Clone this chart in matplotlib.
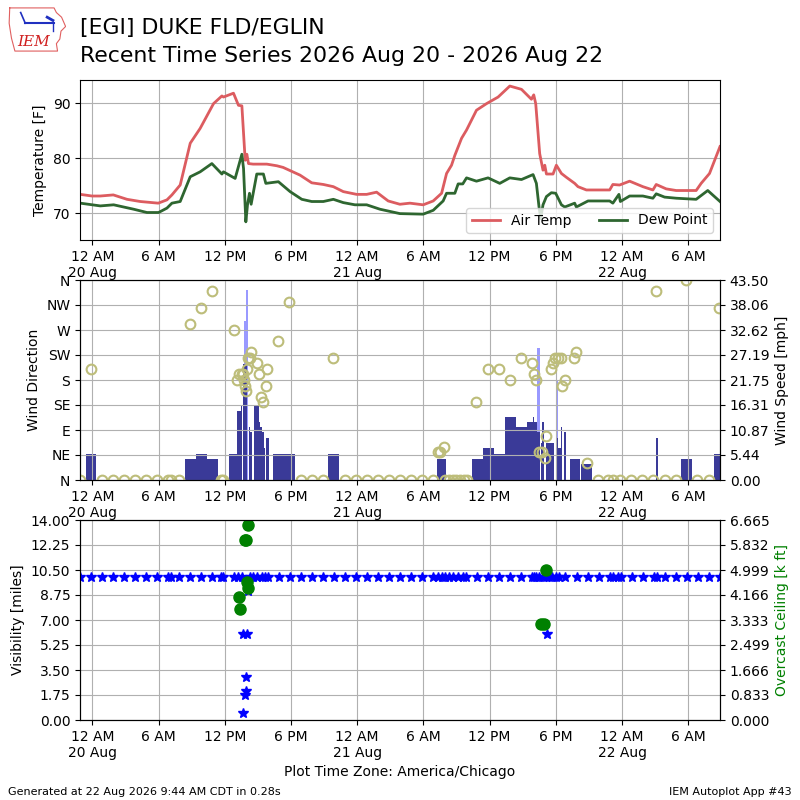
import matplotlib
matplotlib.use('Agg')
import matplotlib.pyplot as plt
import matplotlib.dates as mdates
from matplotlib.ticker import FuncFormatter
import numpy as np
import pandas as pd

# hours are counted from 2026-08-20 00:00 local (America/Chicago)
BASE = pd.Timestamp('2026-08-20 00:00')
START_H, END_H = -1.12, 56.88

temp_hours = [-1.09, -0.03, 0.72, 1.9, 3.14, 4.34, 5.97, 6.76, 7.21, 7.96, 8.87, 9.77,
              10.98, 11.74, 11.88, 12.79, 13.24, 13.55, 13.85, 14.0, 14.15, 14.57, 15.81,
              16.72, 17.29, 18.82, 19.88, 20.93, 21.84, 22.74, 23.95, 24.86, 25.76, 26.81,
              27.87, 28.78, 29.98, 30.89, 31.65, 32.1, 32.55, 32.85, 33.46, 33.91, 34.81,
              35.72, 36.77, 37.83, 38.89, 39.79, 40.0, 40.18, 40.54, 40.84, 41.0, 41.15,
              41.75, 42.05, 42.51, 42.96, 43.71, 44.01, 44.77, 46.88, 47.17, 47.78, 48.69,
              49.89, 50.8, 51.1, 52.0, 52.91, 54.72, 55.17, 55.93, 56.88]
temp_f = [73.4, 73.1, 73.1, 73.3, 72.5, 72.1, 71.8, 72.4, 73.3, 75.1, 82.7, 85.4,
          89.9, 91.3, 91.1, 91.8, 89.6, 89.5, 79.6, 80.7, 79.0, 78.9, 78.9,
          78.6, 78.3, 76.9, 75.5, 75.2, 74.8, 73.9, 73.4, 73.4, 73.8, 72.2,
          71.6, 71.8, 71.5, 72.2, 73.6, 77.2, 78.7, 80.5, 83.6, 85.1, 88.7,
          89.9, 91.1, 93.1, 92.5, 90.7, 91.5, 89.9, 80.8, 77.8, 78.7, 77.1,
          77.1, 78.7, 77.2, 76.5, 75.4, 74.8, 74.2, 74.2, 75.2, 75.1, 75.8,
          74.8, 74.2, 75.2, 74.4, 74.1, 74.1, 75.4, 77.2, 82.1]

dew_hours = [-1.09, 0.72, 1.93, 3.74, 4.95, 6.0, 6.76, 7.21, 7.96, 8.87, 9.77, 10.83,
             11.74, 11.88, 12.94, 13.55, 13.7, 13.91, 14.06, 14.24, 14.39, 14.9, 15.5,
             15.72, 16.86, 17.92, 18.98, 19.88, 20.93, 21.84, 22.74, 23.8, 24.86, 26.06,
             27.87, 29.98, 30.89, 31.79, 32.1, 32.85, 33.15, 33.57, 33.91, 34.81, 35.86,
             36.92, 37.83, 38.89, 39.94, 40.24, 40.48, 40.63, 40.84, 41.15, 41.6, 41.99,
             42.51, 42.81, 43.71, 43.86, 44.92, 46.88, 47.17, 47.72, 47.85, 48.69, 49.89,
             50.8, 51.1, 51.86, 52.91, 54.72, 55.77, 56.88]
dew_f = [71.8, 71.3, 71.5, 70.7, 70.1, 70.1, 70.9, 71.8, 72.1, 76.6, 77.5, 79.0,
         77.1, 77.5, 76.3, 80.7, 78.1, 68.4, 71.5, 73.6, 71.6, 77.1, 77.1,
         75.4, 75.7, 73.9, 72.5, 72.1, 72.1, 72.5, 71.9, 71.5, 71.5, 70.7,
         69.9, 69.8, 70.5, 72.2, 73.6, 73.6, 75.3, 75.3, 76.4, 75.8, 76.4,
         75.4, 76.4, 76.1, 77.0, 75.4, 71.1, 69.0, 71.5, 73.0, 73.7, 73.6,
         71.5, 71.1, 71.8, 71.1, 72.2, 72.2, 71.8, 73.4, 72.1, 73.1, 73.1,
         72.7, 73.5, 72.9, 72.7, 72.5, 74.1, 72.1]

# wind speed bars: time, speed [mph], observation span [h]
wind_hours = [-0.12, 8.88, 9.88, 10.88, 12.76, 13.37, 13.52, 13.85, 14.24, 14.39, 14.9,
              15.13, 15.28, 15.44, 15.6, 15.86, 16.88, 17.88, 21.88, 31.65, 34.88, 35.88,
              36.88, 37.88, 38.88, 39.66, 39.98, 40.17, 40.44, 40.69, 40.82, 41.45, 42.1,
              42.35, 42.53, 42.83, 43.71, 44.81, 51.16, 53.88, 56.88]
wind_mph = [5.75, 4.6, 5.75, 4.6, 5.75, 14.95, 16.1, 25.3, 11.5, 10.35, 16.1,
            12.65, 11.5, 10.35, 6.9, 9.2, 5.75, 5.75, 5.75, 4.6, 4.6, 6.9,
            5.75, 13.8, 11.5, 12.65, 13.8, 12.65, 10.35, 8.05, 12.65, 8.05, 9.2,
            6.9, 11.5, 10.35, 4.6, 3.45, 9.2, 4.6, 5.75]
wind_span = [0.97, 1.0, 0.97, 1.0, 0.75, 0.45, 0.09, 0.31, 0.12, 0.21, 0.48,
             0.15, 0.15, 0.15, 0.15, 0.24, 1.0, 0.97, 1.0, 0.81, 1.0, 1.0,
             1.0, 1.0, 1.02, 0.54, 0.15, 0.24, 0.27, 0.14, 0.15, 0.72, 0.21,
             0.31, 0.09, 0.24, 0.9, 1.0, 0.24, 1.0, 1.0]

gust_hours = [13.8, 13.98, 40.44, 42.1]
gust_mph = [34.5, 41.4, 28.75, 21.85]
gust_span = [0.2, 0.18, 0.27, 0.21]

dir_hours = [-1.12, -0.12, 0.88, 1.88, 2.88, 3.88, 4.88, 5.88, 6.88, 7.12, 7.88, 8.88,
             9.88, 10.88, 11.65, 11.88, 12.85, 13.15, 13.33, 13.55, 13.69, 13.76, 13.85,
             13.94, 14.0, 14.15, 14.3, 14.39, 14.9, 15.14, 15.29, 15.45, 15.72, 15.86,
             16.86, 17.83, 18.88, 19.88, 20.88, 21.84, 22.88, 23.88, 24.88, 25.88, 26.88,
             27.88, 28.88, 29.88, 30.88, 31.35, 31.5, 31.86, 32.0, 32.34, 32.7, 33.0,
             33.3, 33.67, 33.91, 34.81, 35.86, 36.83, 37.83, 38.82, 39.85, 40.0, 40.24,
             40.48, 40.79, 41.0, 41.09, 41.6, 41.75, 41.9, 42.2, 42.5, 42.56, 42.87,
             43.65, 43.86, 44.86, 45.82, 46.73, 47.18, 47.78, 48.84, 49.8, 50.8, 51.1,
             51.86, 52.86, 53.82, 54.83, 55.86, 56.8]
dir_deg = [0, 200, 0, 0, 0, 0, 0, 0, 0, 0, 0, 280,
           310, 340, 0, 0, 270, 180, 190, 190, 190, 180, 170,
           160, 200, 220, 220, 230, 210, 190, 150, 140, 170, 200,
           250, 320, 0, 0, 0, 220, 0, 0, 0, 0, 0,
           0, 0, 0, 0, 50, 50, 60, 0, 0, 0, 0,
           0, 0, 0, 140, 200, 200, 180, 220, 210, 190, 180,
           50, 50, 40, 80, 200, 210, 220, 220, 220, 170, 180,
           220, 230, 30, 0, 0, 0, 0, 0, 0, 0, 340,
           0, 0, 360, 0, 0, 310]

vis_hours = [-1.12, -0.12, 0.88, 1.88, 2.88, 3.88, 4.88, 5.88, 6.88, 7.12, 7.88, 8.88,
             9.88, 10.88, 11.65, 11.88, 12.85, 13.24, 13.55, 13.67, 13.69, 13.85, 13.94,
             13.96, 13.98, 14.15, 14.3, 14.6, 14.9, 15.35, 15.65, 15.95, 16.88, 17.88,
             18.88, 19.88, 20.88, 21.88, 22.88, 23.88, 24.88, 25.88, 26.88, 27.88, 28.88,
             29.88, 30.88, 31.35, 31.65, 32.0, 32.3, 32.7, 33.15, 33.6, 33.88, 34.88,
             35.88, 36.88, 37.88, 38.88, 39.88, 40.0, 40.2, 40.5, 40.8, 41.1, 41.24,
             41.4, 41.7, 42.0, 42.3, 42.8, 43.88, 44.88, 45.88, 46.88, 47.15, 47.6,
             47.88, 48.88, 49.88, 50.88, 51.15, 51.88, 52.88, 53.88, 54.88, 55.88, 56.88]
vis_miles = [10, 10, 10, 10, 10, 10, 10, 10, 10, 10, 10, 10,
             10, 10, 10, 10, 10, 10, 10, 6, 0.5, 1.75, 2,
             3, 6, 9, 10, 10, 10, 10, 10, 10, 10, 10,
             10, 10, 10, 10, 10, 10, 10, 10, 10, 10, 10,
             10, 10, 10, 10, 10, 10, 10, 10, 10, 10, 10,
             10, 10, 10, 10, 10, 10, 10, 10, 10, 10, 6,
             10, 10, 10, 10, 10, 10, 10, 10, 10, 10, 10,
             10, 10, 10, 10, 10, 10, 10, 10, 10, 10, 10]

ceil_hours = [13.3, 13.35, 13.8, 13.92, 14.0, 14.09, 14.15, 40.63, 40.97, 41.15]
ceil_kft = [4.1, 3.7, 6.0, 6.0, 4.6, 4.4, 6.5, 3.2, 3.2, 5.0]

BASE_NUM = mdates.date2num(BASE.to_pydatetime())


def tnum(hours):
    return BASE_NUM + np.asarray(hours, dtype=float) / 24.0


def fmt_time(x, pos=None):
    hour = int(round((x % 1) * 24)) % 24
    d = mdates.num2date(x + 1e-6)
    if hour == 0:
        return '12 AM\n' + d.strftime('%-d %b')
    return d.strftime('%-I %p')


def style_time(ax):
    ax.set_xlim(tnum(START_H), tnum(END_H))
    ax.xaxis.set_major_locator(mdates.HourLocator(byhour=[0, 6, 12, 18]))
    ax.xaxis.set_major_formatter(FuncFormatter(fmt_time))
    ax.grid(True)


fig = plt.figure(figsize=(8, 8), dpi=100)

# ---- temperature
ax1 = fig.add_axes([0.10, 0.70, 0.80, 0.20])
ax1.plot(tnum(temp_hours), temp_f, color='#dc5c60', lw=2, label='Air Temp')
ax1.plot(tnum(dew_hours), dew_f, color='#2e6630', lw=2, label='Dew Point')
ax1.set_ylim(65.1, 94.2)
ax1.set_yticks([70, 80, 90])
ax1.set_ylabel('Temperature [F]')
style_time(ax1)
ax1.legend(loc='lower right', ncol=2)

# ---- wind
ax2 = fig.add_axes([0.10, 0.40, 0.80, 0.25])
ax2r = ax2.twinx()
ax2.set_zorder(ax2r.get_zorder() + 1)
ax2.patch.set_visible(False)
ax2r.bar(tnum(gust_hours), gust_mph, width=np.array(gust_span) / 24.0,
         color='#9999ff', zorder=1)
ax2r.bar(tnum(wind_hours), wind_mph, width=np.array(wind_span) / 24.0,
         color='#3a3a98', zorder=2)
ax2r.set_ylim(0, 43.5)
ax2r.set_yticks(np.linspace(0, 43.5, 9))
ax2r.yaxis.set_major_formatter(
    FuncFormatter(lambda v, p: f'{max(v - 1e-9, 0.0):.2f}'))
ax2r.set_ylabel('Wind Speed [mph]')
ax2.plot(tnum(dir_hours), dir_deg, ls='none', marker='o', ms=7, mfc='none',
         mec='#bdbd7a', mew=1.5)
ax2.set_ylim(0, 360)
ax2.set_yticks(range(0, 361, 45))
ax2.set_yticklabels(['N', 'NE', 'E', 'SE', 'S', 'SW', 'W', 'NW', 'N'])
ax2.set_ylabel('Wind Direction')
style_time(ax2)

# ---- visibility / ceiling
ax3 = fig.add_axes([0.10, 0.10, 0.80, 0.25])
ax3.plot(tnum(vis_hours), vis_miles, ls='none', marker='*', ms=7, color='b')
ax3.set_ylim(0, 14)
ax3.set_yticks(np.linspace(0, 14, 9))
ax3.yaxis.set_major_formatter(FuncFormatter(lambda v, p: f'{v:.2f}'))
ax3.set_ylabel('Visibility [miles]')
ax3.set_xlabel('Plot Time Zone: America/Chicago')
style_time(ax3)
ax3r = ax3.twinx()
ax3r.plot(tnum(ceil_hours), ceil_kft, ls='none', marker='o', ms=8, color='g')
ax3r.set_ylim(0, 6.665)
ax3r.set_yticks(np.linspace(0, 6.665, 9))
ax3r.yaxis.set_major_formatter(FuncFormatter(lambda v, p: f'{v + 1e-9:.3f}'))
ax3r.set_ylabel('Overcast Ceiling [k ft]', color='g')

# ---- titles and footer
fig.text(0.10, 0.965, '[EGI] DUKE FLD/EGLIN', fontsize=15.8, va='center')
fig.text(0.10, 0.930, 'Recent Time Series 2026 Aug 20 - 2026 Aug 22',
         fontsize=15.8, va='center')
fig.text(0.01, 0.01, 'Generated at 22 Aug 2026 9:44 AM CDT in 0.28s',
         fontsize=8, va='center')
fig.text(0.99, 0.01, 'IEM Autoplot App #43', fontsize=8, ha='right', va='center')

# small IEM logo
lax = fig.add_axes([0.010, 0.935, 0.072, 0.058])
lax.axis('off')
lax.set_xlim(0, 1)
lax.set_ylim(0, 1)
outline = [(0.03, 0.95), (0.80, 0.95), (0.84, 0.85), (0.93, 0.75), (1.0, 0.55),
           (0.92, 0.45), (0.90, 0.28), (0.84, 0.18), (0.86, 0.02), (0.12, 0.02),
           (0.06, 0.30), (0.02, 0.62), (0.03, 0.95)]
lax.plot([p[0] for p in outline], [p[1] for p in outline], color='#e06060', lw=0.8)
lax.plot([0.30, 0.80], [0.62, 0.62], color='#2030c0', lw=1.5)
lax.plot([0.30, 0.22], [0.62, 0.85], color='#2030c0', lw=1.2)
lax.plot([0.68, 0.78], [0.75, 0.68], color='#2030c0', lw=2.0)
lax.plot([0.78, 0.78], [0.62, 0.45], color='#2030c0', lw=1.0)
lax.text(0.45, 0.22, 'IEM', color='#d02020', fontsize=11, style='italic',
         family='serif', ha='center', va='center')

fig.savefig('out.png', dpi=100)
